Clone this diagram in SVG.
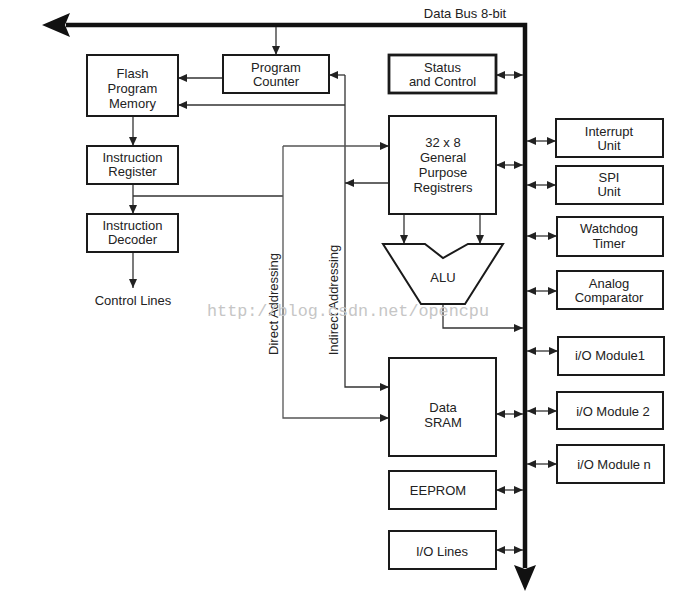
<svg xmlns="http://www.w3.org/2000/svg" width="679" height="598" viewBox="0 0 679 598">
<style>
.box{fill:#fff;stroke:#1a1a1a;stroke-width:2}
.thick{stroke-width:2.8}
.t{font-family:"Liberation Sans",Arial,sans-serif;font-size:13px;fill:#222;text-anchor:middle}
.c{fill:none;stroke:#333;stroke-width:1.3}
.g{fill:none;stroke:#555;stroke-width:1.3}
.bus{fill:none;stroke:#111;stroke-width:4.5}
.wm{font-family:"Liberation Mono","DejaVu Sans Mono",monospace;font-size:16.8px;fill:#c6c6c6}
</style>
<defs>
<marker id="ah" markerUnits="userSpaceOnUse" markerWidth="10" markerHeight="10" viewBox="0 0 10 10" refX="9" refY="5" orient="auto">
<path d="M0,1 L9,5 L0,9 Z" fill="#222"/>
</marker>
<marker id="as" markerUnits="userSpaceOnUse" markerWidth="10" markerHeight="10" viewBox="0 0 10 10" refX="1" refY="5" orient="auto">
<path d="M10,1 L1,5 L10,9 Z" fill="#222"/>
</marker>
</defs>
<rect width="679" height="598" fill="#fff"/>

<g id="connectors">
<polyline class="bus" points="66,25 525,25 525,568"/>
<polygon points="42,25 70,13 65,25 70,37" fill="#111"/>
<polygon points="525,591 514,565 525,569 536,565" fill="#111"/>
<path class="c" d="M276,27 L276,55" marker-end="url(#ah)"/>
<path class="c" d="M223,78 L178,78" marker-end="url(#ah)"/>
<path class="c" d="M345,75 L329,75" marker-end="url(#ah)"/>
<path class="c" d="M345,105 L178,105" marker-end="url(#ah)"/>
<path class="c" d="M345,75 L345,387 L389,387" marker-end="url(#ah)"/>
<path class="c" d="M389,183 L345,183" marker-end="url(#ah)"/>
<path class="c" d="M133,116 L133,146" marker-end="url(#ah)"/>
<path class="c" d="M133,184 L133,214" marker-end="url(#ah)"/>
<path class="c" d="M133,196 L283,196"/>
<path class="g" d="M283,146 L389,146" marker-end="url(#ah)"/>
<path class="g" d="M283,146 L283,418 L389,418" marker-end="url(#ah)"/>
<path class="c" d="M133,252 L133,288" marker-end="url(#ah)"/>
<path class="c" d="M404,214 L404,244" marker-end="url(#ah)"/>
<path class="c" d="M480,214 L480,244" marker-end="url(#ah)"/>
<path class="c" d="M443,304 L443,328 L523,328" marker-end="url(#ah)"/>
<path class="c" d="M496,75 L523,75" marker-start="url(#as)" marker-end="url(#ah)"/>
<path class="c" d="M496,165 L523,165" marker-start="url(#as)" marker-end="url(#ah)"/>
<path class="c" d="M496,414 L523,414" marker-start="url(#as)" marker-end="url(#ah)"/>
<path class="c" d="M496,490 L523,490" marker-start="url(#as)" marker-end="url(#ah)"/>
<path class="c" d="M496,550 L523,550" marker-start="url(#as)" marker-end="url(#ah)"/>
<path class="c" d="M527,141 L556,141" marker-start="url(#as)" marker-end="url(#ah)"/>
<path class="c" d="M527,185 L556,185" marker-start="url(#as)" marker-end="url(#ah)"/>
<path class="c" d="M527,236 L557,236" marker-start="url(#as)" marker-end="url(#ah)"/>
<path class="c" d="M527,291 L557,291" marker-start="url(#as)" marker-end="url(#ah)"/>
<path class="c" d="M527,351 L558,351" marker-start="url(#as)" marker-end="url(#ah)"/>
<path class="c" d="M527,411 L557,411" marker-start="url(#as)" marker-end="url(#ah)"/>
<path class="c" d="M527,464 L557,464" marker-start="url(#as)" marker-end="url(#ah)"/>
</g>

<text class="t" x="465" y="18">Data Bus 8-bit</text>

<g id="program-counter">
<rect class="box" x="223" y="55" width="106" height="38"/>
<text class="t" x="276" y="71.5">Program</text>
<text class="t" x="276" y="85.5">Counter</text>
</g>
<g id="flash">
<rect class="box" x="87" y="55" width="91" height="61"/>
<text class="t" x="132.5" y="77.5">Flash</text>
<text class="t" x="132.5" y="92.5">Program</text>
<text class="t" x="132.5" y="108">Memory</text>
</g>
<g id="status">
<rect class="box thick" x="389" y="55" width="107" height="38"/>
<text class="t" x="442.5" y="71.5">Status</text>
<text class="t" x="442.5" y="85.5">and Control</text>
</g>
<g id="ir">
<rect class="box" x="87" y="146" width="91" height="38"/>
<text class="t" x="132.5" y="161.5">Instruction</text>
<text class="t" x="132.5" y="175.5">Register</text>
</g>
<g id="decoder">
<rect class="box" x="87" y="214" width="91" height="38"/>
<text class="t" x="132.5" y="229.5">Instruction</text>
<text class="t" x="132.5" y="243.5">Decoder</text>
</g>
<g id="control-lines">
<text class="t" x="133" y="304.5">Control Lines</text>
</g>
<g id="gpr">
<rect class="box" x="389" y="116" width="107" height="98"/>
<text class="t" x="443" y="146.5">32 x 8</text>
<text class="t" x="443" y="161.5">General</text>
<text class="t" x="443" y="176.5">Purpose</text>
<text class="t" x="443" y="191.5">Registrers</text>
</g>
<g id="alu">
<polygon class="box" points="383,244 425,244 443,258 468,244 503,244 465,304 421,304"/>
<text class="t" x="443" y="281.5">ALU</text>
</g>
<g id="sram">
<rect class="box" x="389" y="358" width="107" height="98"/>
<text class="t" x="443" y="412">Data</text>
<text class="t" x="443" y="426.5">SRAM</text>
</g>
<g id="eeprom">
<rect class="box" x="389" y="471" width="107" height="38"/>
<text class="t" x="438" y="494.5">EEPROM</text>
</g>
<g id="io-lines">
<rect class="box" x="389" y="531" width="107" height="38"/>
<text class="t" x="442" y="555.5">I/O Lines</text>
</g>
<g id="interrupt">
<rect class="box" x="556" y="119" width="107" height="38"/>
<text class="t" x="609" y="135.5">Interrupt</text>
<text class="t" x="609" y="149.5">Unit</text>
</g>
<g id="spi">
<rect class="box" x="556" y="166" width="107" height="38"/>
<text class="t" x="609" y="181.5">SPI</text>
<text class="t" x="609" y="195.5">Unit</text>
</g>
<g id="watchdog">
<rect class="box" x="557" y="217" width="106" height="39"/>
<text class="t" x="609" y="232.5">Watchdog</text>
<text class="t" x="609" y="247.5">Timer</text>
</g>
<g id="analog">
<rect class="box" x="557" y="271" width="106" height="38"/>
<text class="t" x="609" y="287.5">Analog</text>
<text class="t" x="609" y="301.5">Comparator</text>
</g>
<g id="io-module-1">
<rect class="box" x="558" y="337" width="106" height="38"/>
<text class="t" x="610" y="359.5">i/O Module1</text>
</g>
<g id="io-module-2">
<rect class="box" x="557" y="392" width="106" height="37"/>
<text class="t" x="613" y="415.5">i/O Module 2</text>
</g>
<g id="io-module-n">
<rect class="box" x="557" y="445" width="107" height="38"/>
<text class="t" x="614" y="468.5">i/O Module n</text>
</g>

<text class="t" transform="translate(277.5,304) rotate(-90)" x="0" y="0">Direct Addressing</text>
<text class="t" transform="translate(337.5,300) rotate(-90)" x="0" y="0">Indirect Addressing</text>

<text class="wm" x="207" y="316">http://blog.csdn.net/opencpu</text>
</svg>
